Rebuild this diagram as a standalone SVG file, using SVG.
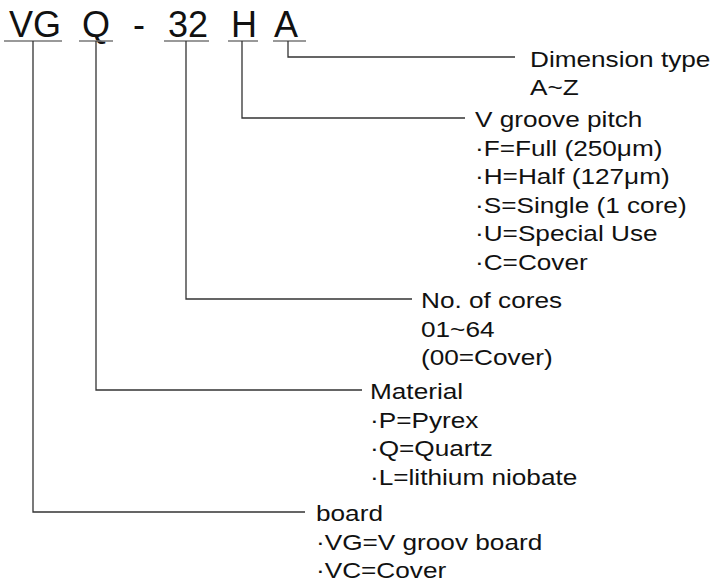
<svg xmlns="http://www.w3.org/2000/svg" width="715" height="583" viewBox="0 0 715 583">
<style>
  .code { font-family: "Liberation Sans", Arial, Helvetica, sans-serif; font-size: 36px; fill: #111; }
  .lbl { font-family: "Liberation Sans", Arial, Helvetica, sans-serif; font-size: 22px; fill: #111; }
  .ul { stroke: #777; stroke-width: 1.5; fill: none; }
  .conn { stroke: #333; stroke-width: 1.3; fill: none; }
</style>
<rect width="715" height="583" fill="#fff"/>
<g id="code">
  <text class="code" x="9" y="37">VG</text>
  <text class="code" x="82" y="37">Q</text>
  <text class="code" x="133" y="37">-</text>
  <text class="code" x="168" y="37">32</text>
  <text class="code" x="231" y="37">H</text>
  <text class="code" x="274" y="37">A</text>
  <line class="ul" x1="4" y1="41" x2="62" y2="41"/>
  <line class="ul" x1="79" y1="41" x2="113" y2="41"/>
  <line class="ul" x1="164" y1="41" x2="209" y2="41"/>
  <line class="ul" x1="228" y1="41" x2="258" y2="41"/>
  <line class="ul" x1="273" y1="41" x2="306" y2="41"/>
</g>
<g id="connectors">
  <polyline class="conn" points="288,41 288,57 515,57"/>
  <polyline class="conn" points="242,41 242,118 465,118"/>
  <polyline class="conn" points="186,41 186,299 412,299"/>
  <polyline class="conn" points="96,41 96,390 362,390"/>
  <polyline class="conn" points="33,41 33,512 305,512"/>
</g>
<g id="dimension" transform="translate(530,0) scale(1.19,1)">
  <text class="lbl" x="0" y="67">Dimension type</text>
  <text class="lbl" x="0" y="95">A~Z</text>
</g>
<g id="pitch" transform="translate(475,0) scale(1.19,1)">
  <text class="lbl" x="0" y="127">V groove pitch</text>
  <text class="lbl" x="0" y="156">·F=Full (250μm)</text>
  <text class="lbl" x="0" y="184">·H=Half (127μm)</text>
  <text class="lbl" x="0" y="213">·S=Single (1 core)</text>
  <text class="lbl" x="0" y="241">·U=Special Use</text>
  <text class="lbl" x="0" y="270">·C=Cover</text>
</g>
<g id="cores" transform="translate(421,0) scale(1.19,1)">
  <text class="lbl" x="0" y="308">No. of cores</text>
  <text class="lbl" x="0" y="337">01~64</text>
  <text class="lbl" x="0" y="365">(00=Cover)</text>
</g>
<g id="material" transform="translate(370,0) scale(1.19,1)">
  <text class="lbl" x="0" y="399">Material</text>
  <text class="lbl" x="0" y="428">·P=Pyrex</text>
  <text class="lbl" x="0" y="456">·Q=Quartz</text>
  <text class="lbl" x="0" y="485">·L=lithium niobate</text>
</g>
<g id="board" transform="translate(316,0) scale(1.19,1)">
  <text class="lbl" x="0" y="521">board</text>
  <text class="lbl" x="0" y="550">·VG=V groov board</text>
  <text class="lbl" x="0" y="578">·VC=Cover</text>
</g>
</svg>
